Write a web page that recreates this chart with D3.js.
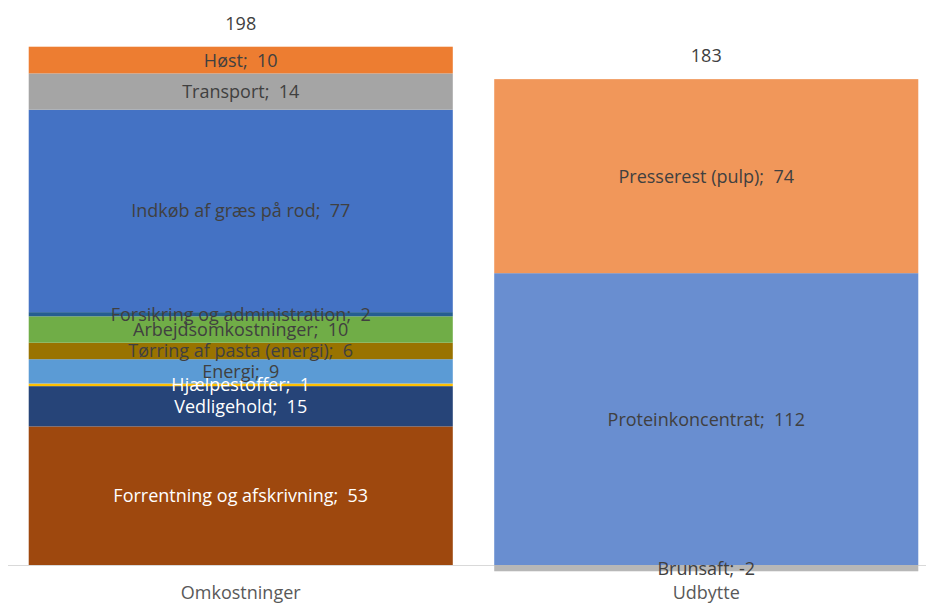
<!DOCTYPE html>
<html>
<head>
<meta charset="utf-8">
<script src="https://cdn.jsdelivr.net/npm/d3@7"></script>
<style>
  body { margin: 0; background: #fff; }
  text { font-family: "Open Sans", sans-serif; }
</style>
</head>
<body>
<div id="chart"></div>
<script>
// categories (bars)
let categories = ["Omkostninger", "Udbytte"]

// cost segments, bottom to top
let costNames = ["Forrentning og afskrivning", "Vedligehold", "Hjælpestoffer", "Energi",
  "Tørring af pasta (energi)", "Arbejdsomkostninger", "Forsikring og administration",
  "Indkøb af græs på rod", "Transport", "Høst"]
let costValues = [53.0, 15.4, 1.0, 9.3, 6.3, 10.1, 1.6, 77.4, 13.9, 10.2]
let costColors = ["#9E480E", "#264478", "#FFC000", "#5B9BD5", "#997300", "#70AD47",
  "#255E91", "#4472C4", "#A5A5A5", "#ED7D31"]
let costLabelColors = ["#fff", "#fff", "#fff", "#404040", "#404040", "#404040",
  "#404040", "#404040", "#404040", "#404040"]

// yield segments
let yieldNames = ["Brunsaft", "Proteinkoncentrat", "Presserest (pulp)"]
let yieldValues = [-2.4, 111.6, 74.2]
let yieldColors = ["#B7B7B7", "#698ED0", "#F1975A"]

var width = 926, height = 603;
var fontSize = "18px";

var svg = d3.select("#chart").append("svg")
  .attr("width", width)
  .attr("height", height);

// x: one band per bar, plot area runs past the right edge
var x = d3.scaleBand()
  .domain(categories)
  .range([8, 939])
  .paddingInner(0.089)
  .paddingOuter(0.0445);

var y = d3.scaleLinear()
  .domain([0, 200])
  .range([565, 42]);

// build stacked segments for each bar (negatives go below zero)
function stackUp(cat, names, values, colors, labelColors) {
  let pos = 0, neg = 0;
  return names.map(function (n, i) {
    let v = values[i], y0, y1;
    if (v >= 0) { y0 = pos; y1 = pos + v; pos = y1; }
    else { y0 = neg + v; y1 = neg; neg = y0; }
    return { cat: cat, name: n, value: v, y0: y0, y1: y1, color: colors[i],
      labelColor: labelColors ? labelColors[i] : "#404040" };
  });
}

let segs = stackUp(categories[0], costNames, costValues, costColors, costLabelColors)
  .concat(stackUp(categories[1], yieldNames, yieldValues, yieldColors));

// axis line at zero
svg.append("line")
  .attr("x1", 8).attr("x2", width)
  .attr("y1", y(0) + 0.5).attr("y2", y(0) + 0.5)
  .attr("stroke", "#D9D9D9")
  .attr("stroke-width", 1);

// bars
svg.selectAll("rect.seg")
  .data(segs)
  .enter()
  .append("rect")
  .attr("class", "seg")
  .attr("x", function (d) { return x(d.cat) })
  .attr("width", x.bandwidth())
  .attr("y", function (d) { return y(d.y1) })
  .attr("height", function (d) { return y(d.y0) - y(d.y1) })
  .attr("fill", function (d) { return d.color });

// segment labels
svg.selectAll("text.seglabel")
  .data(segs)
  .enter()
  .append("text")
  .attr("class", "seglabel")
  .attr("x", function (d) { return x(d.cat) + x.bandwidth() / 2 })
  .attr("y", function (d) { return (y(d.y0) + y(d.y1)) / 2 })
  .attr("dy", "0.36em")
  .attr("text-anchor", "middle")
  .attr("font-size", fontSize)
  .attr("fill", function (d) { return d.labelColor })
  .text(function (d) {
    let r = Math.round(d.value);
    return d.name + (r < 0 ? "; " : ";\u00a0\u00a0") + r;
  });

// totals above each bar
let totals = [d3.sum(costValues), d3.sum(yieldValues)];
let tops = [d3.sum(costValues.filter(v => v > 0)), d3.sum(yieldValues.filter(v => v > 0))];
svg.selectAll("text.total")
  .data(categories)
  .enter()
  .append("text")
  .attr("class", "total")
  .attr("x", function (d) { return x(d) + x.bandwidth() / 2 })
  .attr("y", function (d, i) { return y(tops[i]) - 23.5 })
  .attr("dy", "0.36em")
  .attr("text-anchor", "middle")
  .attr("font-size", fontSize)
  .attr("fill", "#404040")
  .text(function (d, i) { return Math.round(totals[i]) });

// category labels
svg.selectAll("text.cat")
  .data(categories)
  .enter()
  .append("text")
  .attr("class", "cat")
  .attr("x", function (d) { return x(d) + x.bandwidth() / 2 })
  .attr("y", 593)
  .attr("dy", "0.36em")
  .attr("text-anchor", "middle")
  .attr("font-size", fontSize)
  .attr("fill", "#595959")
  .text(function (d) { return d });
</script>
</body>
</html>
